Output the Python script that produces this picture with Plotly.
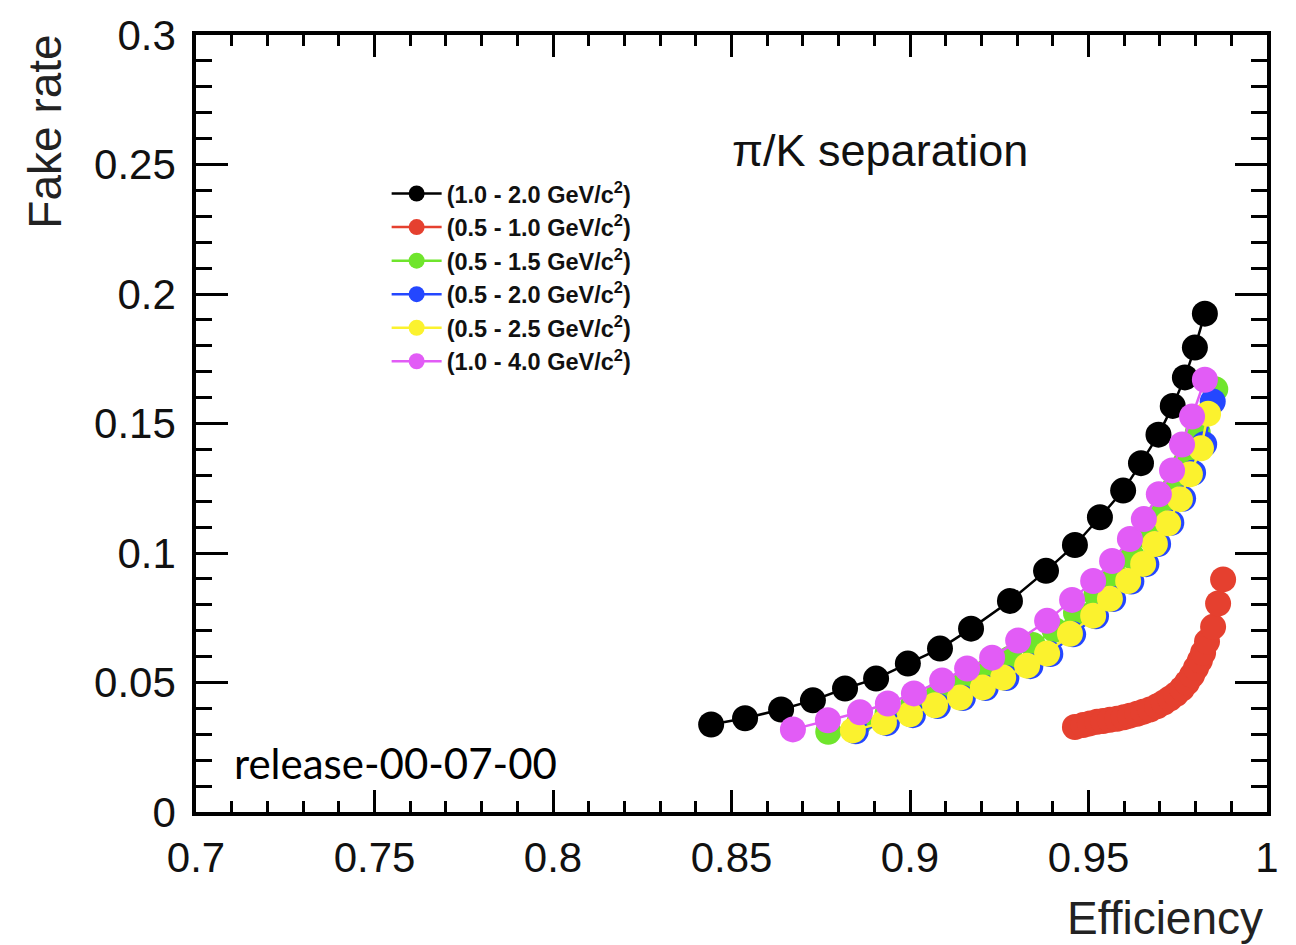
import plotly.graph_objects as go

# ---- data ----
labels = [
    "(1.0 - 2.0 GeV/c<sup>2</sup>)",
    "(0.5 - 1.0 GeV/c<sup>2</sup>)",
    "(0.5 - 1.5 GeV/c<sup>2</sup>)",
    "(0.5 - 2.0 GeV/c<sup>2</sup>)",
    "(0.5 - 2.5 GeV/c<sup>2</sup>)",
    "(1.0 - 4.0 GeV/c<sup>2</sup>)",
]
colors = ["#000000", "#e5402f", "#6fe52c", "#2447ff", "#fbf22e", "#e25cf6"]

black_x = [0.8443, 0.8538, 0.8639, 0.8728, 0.8818, 0.8905, 0.8994, 0.9084, 0.9171, 0.9280,
           0.9381, 0.9462, 0.9532, 0.9597, 0.9647, 0.9696, 0.9736, 0.9770, 0.9798, 0.9826]
black_y = [0.0338, 0.0362, 0.0396, 0.0431, 0.0477, 0.0515, 0.0573, 0.0631, 0.0708, 0.0815,
           0.0931, 0.1031, 0.1138, 0.1241, 0.1347, 0.1457, 0.1568, 0.1678, 0.1793, 0.1924]

red_x = [0.9462, 0.9485, 0.9504, 0.9524, 0.9541, 0.9560, 0.9580, 0.9599, 0.9616, 0.9636,
         0.9653, 0.9672, 0.9692, 0.9711, 0.9728, 0.9745, 0.9762, 0.9776, 0.9790, 0.9801,
         0.9812, 0.9821, 0.9832, 0.9849, 0.9863, 0.9877]
red_y = [0.0328, 0.0336, 0.0342, 0.0348, 0.0351, 0.0356, 0.0360, 0.0366, 0.0372, 0.0379,
         0.0387, 0.0396, 0.0408, 0.0423, 0.0438, 0.0455, 0.0477, 0.0500, 0.0528, 0.0556,
         0.0585, 0.0615, 0.0658, 0.0715, 0.0805, 0.0898]

green_x = [0.8771, 0.8858, 0.8937, 0.9010, 0.9080, 0.9150, 0.9215, 0.9280, 0.9344, 0.9405,
           0.9465, 0.9522, 0.9575, 0.9622, 0.9664, 0.9702, 0.9738, 0.9772, 0.9806, 0.9855]
green_y = [0.0310, 0.0345, 0.0380, 0.0418, 0.0456, 0.0497, 0.0542, 0.0592, 0.0645, 0.0703,
           0.0768, 0.0838, 0.0910, 0.0987, 0.1067, 0.1152, 0.1245, 0.1350, 0.1465, 0.1632]

blue_x = [0.8848, 0.8935, 0.9008, 0.9078, 0.9148, 0.9212, 0.9270, 0.9337, 0.9393, 0.9457,
          0.9521, 0.9569, 0.9620, 0.9662, 0.9695, 0.9732, 0.9765, 0.9793, 0.9824, 0.9848]
blue_y = [0.0312, 0.0343, 0.0374, 0.0409, 0.0440, 0.0479, 0.0517, 0.0563, 0.0610, 0.0686,
          0.0756, 0.0822, 0.0890, 0.0957, 0.1035, 0.1117, 0.1210, 0.1310, 0.1420, 0.1585]

yellow_x = [0.8840, 0.8927, 0.9000, 0.9070, 0.9140, 0.9204, 0.9261, 0.9328, 0.9384, 0.9448,
            0.9513, 0.9560, 0.9611, 0.9653, 0.9686, 0.9723, 0.9756, 0.9784, 0.9815, 0.9835]
yellow_y = [0.0315, 0.0346, 0.0377, 0.0412, 0.0442, 0.0481, 0.0519, 0.0565, 0.0612, 0.0688,
            0.0758, 0.0823, 0.0892, 0.0958, 0.1035, 0.1115, 0.1208, 0.1304, 0.1404, 0.1538]

magenta_x = [0.8672, 0.8770, 0.8860, 0.8938, 0.9011, 0.9090, 0.9160, 0.9230, 0.9303, 0.9384,
             0.9454, 0.9513, 0.9566, 0.9616, 0.9655, 0.9697, 0.9734, 0.9762, 0.9790, 0.9826]
magenta_y = [0.0319, 0.0354, 0.0385, 0.0419, 0.0458, 0.0508, 0.0554, 0.0596, 0.0662, 0.0738,
             0.0819, 0.0892, 0.0969, 0.1054, 0.1131, 0.1227, 0.1319, 0.1419, 0.1527, 0.1669]

series = [
    (black_x, black_y),
    (red_x, red_y),
    (green_x, green_y),
    (blue_x, blue_y),
    (yellow_x, yellow_y),
    (magenta_x, magenta_y),
]

x_ticks = [0.7, 0.75, 0.8, 0.85, 0.9, 0.95, 1.0]
y_ticks = [0, 0.05, 0.1, 0.15, 0.2, 0.25, 0.3]

fig = go.Figure()
for (xs, ys), name, col in zip(series, labels, colors):
    fig.add_trace(go.Scatter(
        x=xs, y=ys, mode="lines+markers", name="<b>" + name + "</b>",
        line=dict(color=col, width=2.5),
        marker=dict(color=col, size=26, line=dict(width=0)),
    ))

axis_common = dict(
    showgrid=False, zeroline=False,
    showline=True, linecolor="black", linewidth=3.5, mirror="allticks",
    ticks="inside", tickcolor="black", tickwidth=2.5,
    tickfont=dict(family="Liberation Sans, Arial, sans-serif", size=42, color="#111"),
)

fig.update_xaxes(
    range=[0.7, 1.0], tickvals=x_ticks, ticklen=22,
    ticklabelstandoff=6,
    minor=dict(dtick=0.01, ticks="inside", ticklen=11, tickwidth=2.5, tickcolor="black", tick0=0.7),
    **axis_common,
)
fig.update_yaxes(
    range=[0, 0.3], tickvals=y_ticks, ticklen=32,
    ticklabelstandoff=8,
    minor=dict(dtick=0.01, ticks="inside", ticklen=16, tickwidth=2.5, tickcolor="black", tick0=0),
    **axis_common,
)

fig.update_layout(
    width=1296, height=945,
    margin=dict(l=196, r=29, t=32, b=133),
    paper_bgcolor="white", plot_bgcolor="white",
    showlegend=True,
    legend=dict(
        x=0.178, y=0.824, xanchor="left", yanchor="top",
        bgcolor="rgba(0,0,0,0)", borderwidth=0,
        font=dict(family="Liberation Sans, Arial, sans-serif", size=23.5, color="#111"),
        itemsizing="trace", itemwidth=50, tracegroupgap=0,
    ),
    annotations=[
        dict(text="Fake rate", xref="paper", yref="paper", x=-0.141, y=1.003,
             xanchor="center", yanchor="top", textangle=-90, showarrow=False,
             font=dict(family="Liberation Sans, Arial, sans-serif", size=46, color="#222")),
        dict(text="Efficiency", xref="paper", yref="paper", x=0.998, y=-0.136,
             xanchor="right", yanchor="middle", showarrow=False,
             font=dict(family="Liberation Sans, Arial, sans-serif", size=46, color="#222")),
        dict(text="\u03c0/K separation", xref="paper", yref="paper", x=0.639, y=0.851,
             xanchor="center", yanchor="middle", showarrow=False,
             font=dict(family="Liberation Sans, Arial, sans-serif", size=45, color="#111")),
        dict(text="release-00-07-00", xref="paper", yref="paper", x=0.0336, y=0.0628,
             xanchor="left", yanchor="middle", showarrow=False,
             font=dict(family="Lato, sans-serif", size=42, color="#000")),
    ],
)

fig.write_html("out.html")
